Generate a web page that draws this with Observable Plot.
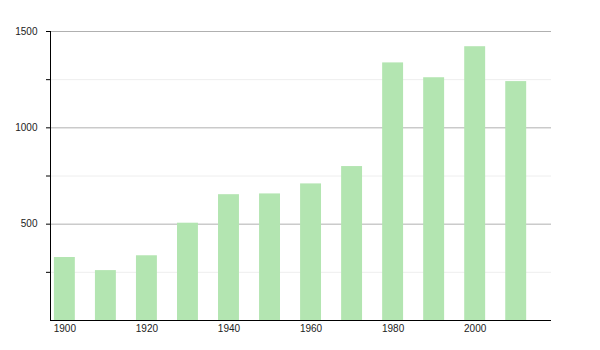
<!DOCTYPE html>
<html>
<head>
<meta charset="utf-8">
<script src="https://cdn.jsdelivr.net/npm/d3@7"></script>
<script src="https://cdn.jsdelivr.net/npm/@observablehq/plot@0.6"></script>
<style>
  html, body { margin: 0; padding: 0; background: #fff; }
  #chart svg { display: block; }
</style>
</head>
<body>
<div id="chart"></div>
<script>
const years = [1900, 1910, 1920, 1930, 1940, 1950, 1960, 1970, 1980, 1990, 2000, 2010];
const population = [327, 259, 336, 505, 653, 657, 709, 799, 1337, 1260, 1421, 1240];
const xTicks = [1900, 1920, 1940, 1960, 1980, 2000];
const yTicks = [250, 500, 750, 1000, 1250, 1500];
const yMajor = [500, 1000, 1500];
const yMinor = [250, 750, 1250];

const xDomain = [1896.5, 2018.6];
const halfWidth = 2.55;
const data = years.map((y, i) => ({year: y, value: population[i]}));

const chart = Plot.plot({
  width: 600,
  height: 350,
  marginLeft: 50,
  marginRight: 49,
  marginTop: 31,
  marginBottom: 30,
  style: {fontFamily: "'Liberation Sans', Arial, sans-serif", fontSize: "10px", color: "#222", background: "#fff"},
  x: {type: "linear", domain: xDomain},
  y: {domain: [0, 1500]},
  marks: [
    Plot.ruleY(yMinor, {stroke: "#eeeeee", strokeWidth: 1}),
    Plot.ruleY(yMajor, {stroke: "#b0b0b0", strokeWidth: 1}),
    Plot.rectY(data, {x1: d => d.year - halfWidth, x2: d => d.year + halfWidth, y: "value", fill: "#b3e5b1"}),
    Plot.axisY({ticks: yTicks, tickSize: 4, tickPadding: 9, stroke: "#000", tickFormat: d => d % 500 === 0 ? String(d) : "", label: null}),
    Plot.axisX({ticks: xTicks, tickSize: 0, tickPadding: 4, tickFormat: d => String(d), label: null}),
    Plot.ruleX([xDomain[0]], {stroke: "#000"}),
    Plot.ruleY([0], {stroke: "#000"})
  ]
});
document.getElementById("chart").appendChild(chart);
</script>
</body>
</html>
